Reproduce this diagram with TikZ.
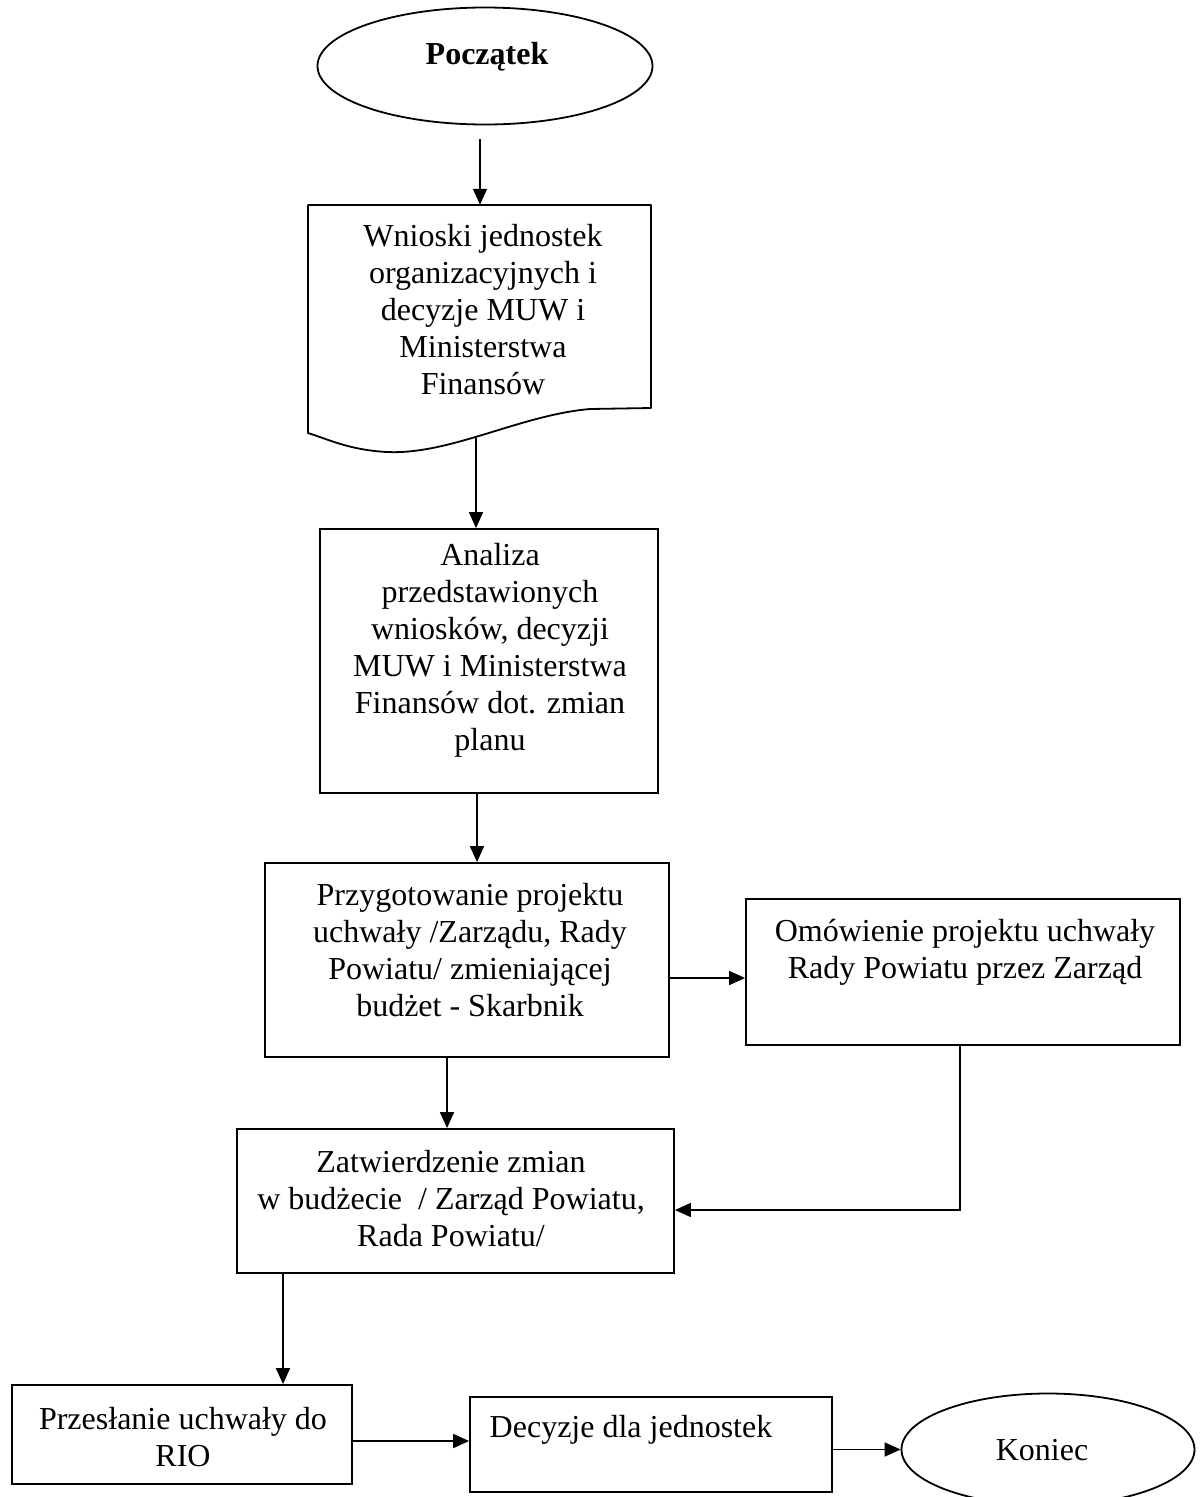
\documentclass[tikz,border=0pt]{standalone}
\usepackage{fontspec}
\setmainfont{Liberation Serif}
\usetikzlibrary{shapes.geometric,arrows.meta}
\tikzset{
  frame/.style={draw, line width=1.8pt, inner sep=0pt},
  txt/.style={font=\fontsize{32}{37}\selectfont, align=center, inner sep=0pt},
  arr/.style={line width=1.7pt, -{Triangle[length=16pt,width=14pt]}},
  oval/.style={draw, ellipse, line width=1.8pt, inner sep=0pt}
}
\begin{document}
\begin{tikzpicture}[x=1pt,y=-1pt]
\useasboundingbox (0,0) rectangle (1203,1497);
% start
\node[oval, minimum width=335pt, minimum height=117pt] (start) at (485,66) {};
\node[txt, font=\fontsize{32}{37}\selectfont\bfseries] (startT) at (487,57) {Początek};
% document shape
\node[inner sep=0pt, minimum width=343pt, minimum height=228pt] (doc) at (479.5,319) {};
\draw[line width=1.8pt, line join=round] (308,433) -- (308,205) -- (651,205) -- (651,408) -- (590,409)
  .. controls (520,415) and (450,455) .. (387,452)
  .. controls (350,450) and (330,440) .. (308,433) -- cycle;
\coordinate (docB) at (476,438);
\node[txt] (docT) at (483,310) {Wnioski jednostek\\organizacyjnych i\\decyzje MUW i\\Ministerstwa\\Finansów};
% analiza
\node[frame, minimum width=338pt, minimum height=264pt] (anal) at (489,661) {};
\node[txt] (analT) at (490,650) {Analiza\\przedstawionych\\wniosków, decyzji\\MUW i Ministerstwa\\Finansów dot. zmian\\planu};
% przygotowanie
\node[frame, minimum width=404pt, minimum height=194pt] (przyg) at (467,960) {};
\node[txt] (przygT) at (470,950) {Przygotowanie projektu\\uchwały /Zarządu, Rady\\Powiatu/ zmieniającej\\budżet - Skarbnik};
% omowienie
\node[frame, minimum width=434pt, minimum height=146pt] (omow) at (963,972) {};
\node[txt] (omowT) at (965,952) {Omówienie projektu uchwały\\Rady Powiatu przez Zarząd};
% zatwierdzenie
\node[frame, minimum width=437pt, minimum height=144pt] (zatw) at (455.5,1201) {};
\node[txt] (zatwT) at (451,1199) {Zatwierdzenie zmian\\w budżecie \ / Zarząd Powiatu,\\Rada Powiatu/};
% przeslanie
\node[frame, minimum width=340pt, minimum height=99pt] (przes) at (182,1434.5) {};
\node[txt] (przesT) at (183,1437) {Przesłanie uchwały do\\RIO};
% decyzje
\node[frame, minimum width=362pt, minimum height=95pt] (decyz) at (651,1444.5) {};
\node[txt] (decyzT) at (631,1430) {Decyzje dla jednostek};
% koniec
\node[oval, minimum width=293pt, minimum height=112pt] (kon) at (1048,1449.5) {};
\node[txt] (konT) at (1042,1450) {Koniec};
% connectors
\draw[arr, shorten <=14pt] ([xshift=-5pt]start.south) -- ([xshift=-5pt]start.south |- doc.north);
\draw[arr] (docB) -- (docB |- anal.north);
\draw[arr] ([xshift=-12pt]anal.south) -- ([xshift=-12pt]anal.south |- przyg.north);
\draw[arr] ([yshift=-18pt]przyg.east) -- ([yshift=-18pt]przyg.east -| omow.west);
\draw[arr] ([xshift=-3pt]omow.south) |- ([yshift=-9pt]zatw.east);
\draw[arr] ([xshift=-20pt]przyg.south) -- ([xshift=-20pt]przyg.south |- zatw.north);
\draw[arr] ([xshift=-172.5pt]zatw.south) -- ([xshift=-172.5pt]zatw.south |- przes.north);
\draw[arr] ([yshift=-6.5pt]przes.east) -- ([yshift=-6.5pt]przes.east -| decyz.west);
\draw[arr] ([yshift=-5pt]decyz.east) -- (kon.west);
\end{tikzpicture}
\end{document}
